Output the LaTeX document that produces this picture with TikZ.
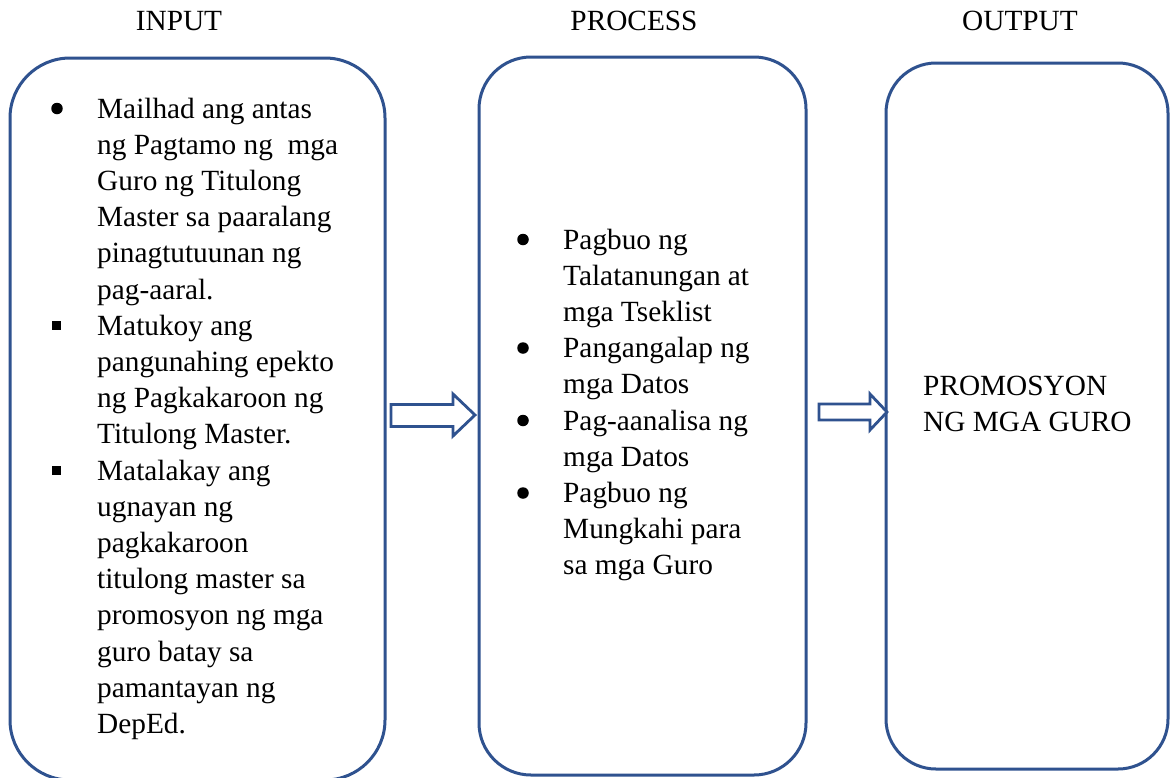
\documentclass[tikz,border=0pt]{standalone}
\usepackage{fontspec}
\setmainfont{Liberation Serif}
\definecolor{frameblue}{HTML}{2F528F}
\newcommand\linestack[1]{\vtop{\halign{##\hfil\cr #1\crcr}}}
\begin{document}
\begin{tikzpicture}[x=1pt,y=-1pt,
  txt/.style={inner sep=0pt, anchor=base west, font=\fontsize{29.3}{36.2}\selectfont},
  head/.style={inner sep=0pt, anchor=base, font=\fontsize{29.3}{36.2}\selectfont},
  panel/.style={draw=frameblue, line width=3pt, fill=none, inner sep=0pt},
  dotbullet/.style={circle, fill=black, inner sep=0pt, minimum size=11.5pt},
  sqbullet/.style={rectangle, fill=black, inner sep=0pt, minimum size=9pt},
  blockarrow/.style={draw=frameblue, line width=2.8pt, fill=white, line join=miter}]
\useasboundingbox (0,0) rectangle (1170,777);
\fill[white] (0,0) rectangle (1170,777);

% panels
\node[panel, rounded corners=60pt, minimum width=375pt, minimum height=722pt] (inbox) at (197.5,419) {};
\node[panel, rounded corners=52pt, minimum width=327pt, minimum height=718pt] (procbox) at (642.5,416) {};
\node[panel, rounded corners=50pt, minimum width=282pt, minimum height=706pt] (outbox) at (1027,416) {};

% headings
\node[head] (hin) at (179,30) {INPUT};
\node[head] (hproc) at (634,30) {PROCESS};
\node[head] (hout) at (1020,30) {OUTPUT};

% input items
\node[dotbullet] (b1) at (57,108.5) {};
\node[txt] (i1) at (97,118) {\linestack{Mailhad ang antas\cr ng Pagtamo ng\ \ mga\cr Guro ng Titulong\cr Master sa paaralang\cr pinagtutuunan ng\cr pag-aaral.}};
\node[sqbullet] (b2) at (56,325.5) {};
\node[txt] (i2) at (97,335.2) {\linestack{Matukoy ang\cr pangunahing epekto\cr ng Pagkakaroon ng\cr Titulong Master.}};
\node[sqbullet] (b3) at (56,470.5) {};
\node[txt] (i3) at (97,480) {\linestack{Matalakay ang\cr ugnayan ng\cr pagkakaroon\cr titulong master sa\cr promosyon ng mga\cr guro batay sa\cr pamantayan ng\cr DepEd.}};

% process items
\node[dotbullet] (p1b) at (523,239.5) {};
\node[txt] (p1) at (563,249) {\linestack{Pagbuo ng\cr Talatanungan at\cr mga Tseklist}};
\node[dotbullet] (p2b) at (523,348) {};
\node[txt] (p2) at (563,357.6) {\linestack{Pangangalap ng\cr mga Datos}};
\node[dotbullet] (p3b) at (523,420.5) {};
\node[txt] (p3) at (563,430) {\linestack{Pag-aanalisa ng\cr mga Datos}};
\node[dotbullet] (p4b) at (523,493) {};
\node[txt] (p4) at (563,502.4) {\linestack{Pagbuo ng\cr Mungkahi para\cr sa mga Guro}};

% output
\node[txt] (o1) at (923,395) {\linestack{PROMOSYON\cr NG MGA GURO}};

% block arrows
\draw[blockarrow] (391,404.5) -- (453,404.5) -- (453,394) -- (475,415) -- (453,436) -- (453,426.5) -- (391,426.5) -- cycle;
\draw[blockarrow] (819,404) -- (870,404) -- (870,394) -- (887,412) -- (870,430) -- (870,420) -- (819,420) -- cycle;
\end{tikzpicture}
\end{document}
